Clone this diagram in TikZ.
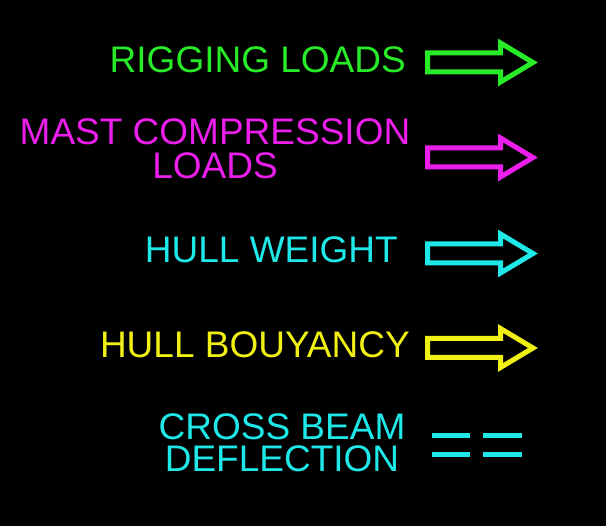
\documentclass[tikz,border=0pt]{standalone}
\usepackage{fontspec}
\setmainfont{Liberation Sans}
\definecolor{cgreen}{RGB}{40,235,40}
\definecolor{cmagenta}{RGB}{235,30,235}
\definecolor{ccyan}{RGB}{30,232,232}
\definecolor{cyellow}{RGB}{240,240,20}
\begin{document}
\begin{tikzpicture}[x=1pt,y=-1pt,
  lbl/.style={inner sep=0pt, font=\fontsize{37}{37}\selectfont},
  lbltwo/.style={inner sep=0pt, align=center, text depth=0pt, anchor=south},
  legarrow/.style={line width=5pt, line join=miter, miter limit=10},
  defl/.style={line width=5pt, line cap=butt}]
\fill[black] (0,0) rectangle (606,526);
\useasboundingbox (0,0) rectangle (606,526);
% texts
\node[lbl, text=cgreen, anchor=base east] (rig) at (406,73) {RIGGING LOADS};
\node[lbltwo, text=cmagenta, font=\fontsize{37}{34}\selectfont] (mast) at (215,179) {MAST COMPRESSION\\LOADS};
\node[lbl, text=ccyan, anchor=base east] (hullw) at (398,263) {HULL WEIGHT};
\node[lbl, text=cyellow, anchor=base east] (hullb) at (410,358) {HULL BOUYANCY};
\node[lbltwo, text=ccyan, font=\fontsize{37}{32}\selectfont] (cross) at (282,472) {CROSS BEAM\\DEFLECTION};
% arrows
\foreach \yc/\col in {62.5/cgreen, 157.5/cmagenta, 253.5/ccyan, 348/cyellow}{
  \draw[legarrow, draw=\col] (427.5,\yc-9.5) -- (500.5,\yc-9.5) -- (500.5,\yc-19.5)
    -- (533,\yc) -- (500.5,\yc+19.5) -- (500.5,\yc+9.5) -- (427.5,\yc+9.5) -- cycle;
}
% deflection dashes
\draw[defl, ccyan] (432,435.5) -- (470,435.5);
\draw[defl, ccyan] (483,435.5) -- (522,435.5);
\draw[defl, ccyan] (432,454.5) -- (470,454.5);
\draw[defl, ccyan] (483,454.5) -- (522,454.5);
\end{tikzpicture}
\end{document}
